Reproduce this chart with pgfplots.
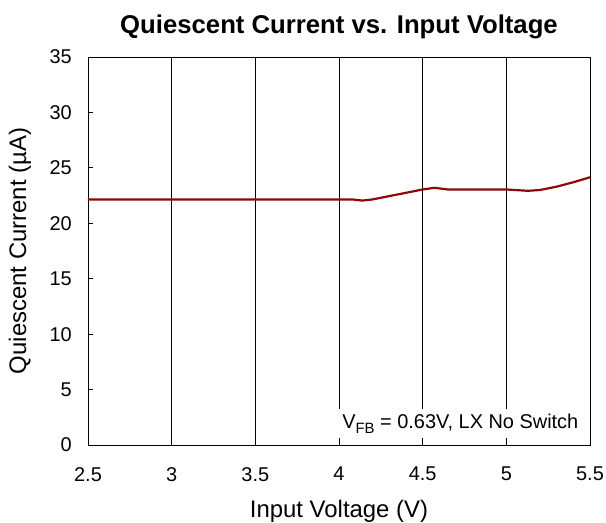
\documentclass[border=0pt]{standalone}
\usepackage{fontspec}
\setmainfont{Liberation Sans}
\usepackage{pgfplots}
\pgfplotsset{compat=1.18}
\definecolor{curve}{RGB}{140,8,8}
\begin{document}
\begin{tikzpicture}
\begin{axis}[
  scale only axis,
  width=502bp, height=388bp,
  xmin=2.5, xmax=5.5, ymin=0, ymax=35,
  xtick={2.5,3,3.5,4,4.5,5,5.5},
  ytick={0,5,10,15,20,25,30,35},
  xticklabels={2.5,3,3.5,4,4.5,5,5.5},
  /pgf/number format/assume math mode=true,
  xtick pos=bottom, ytick pos=left,
  tick align=inside,
  major tick length=5bp,
  tick style={black, line width=0.8bp},
  axis line style={black, line width=0.8bp},
  xmajorgrids=true,
  ymajorgrids=false,
  grid style={black, line width=0.8bp},
  ticklabel style={font=\fontsize{20}{24}\selectfont},
  yticklabel style={anchor=east, inner sep=0pt, xshift=-16bp},
  xticklabel style={anchor=north, inner sep=0pt, yshift=-22bp},
  xlabel={Input Voltage (V)},
  ylabel={Quiescent Current (\textmu A)},
  title={Quiescent Current vs. Input Voltage},
  every axis x label/.style={at={(rel axis cs:0.5,0)}, anchor=base, yshift=-72bp, inner sep=0pt, font=\fontsize{24}{28}\selectfont},
  every axis y label/.style={at={(rel axis cs:0,0.5)}, xshift=-68bp, anchor=center, rotate=90, inner sep=0pt, font=\fontsize{24}{28}\selectfont},
  every axis title/.style={at={(rel axis cs:0.5,1)}, anchor=base, yshift=24bp, inner sep=0pt, font=\fontsize{25.8}{30}\selectfont\bfseries},
  clip=false,
]
\addplot[curve, line width=2.2bp] coordinates {
(2.5,22.15) (3,22.15) (3.5,22.15) (4,22.15) (4.08,22.15) (4.14,22.05) (4.2,22.15)
(4.3,22.45) (4.4,22.75) (4.5,23.05) (4.57,23.2) (4.65,23.05) (4.8,23.05) (5.0,23.05)
(5.05,23.0) (5.13,22.93) (5.2,23.0) (5.3,23.3) (5.4,23.7) (5.5,24.15)
};
\node[fill=white, anchor=south east, inner xsep=10bp, inner ysep=5bp, font=\fontsize{20}{24}\selectfont]
  at ([shift={(-1.5bp,6.5bp)}]rel axis cs:1,0) {V\raisebox{-0.22em}{\fontsize{15}{18}\selectfont FB} = 0.63V, LX No Switch};
\coordinate (bl) at (rel axis cs:0,0);
\coordinate (tr) at (rel axis cs:1,1);
\end{axis}
\pgfresetboundingbox
\path[use as bounding box] ([shift={(-88bp,-78bp)}]bl) rectangle ([shift={(16bp,57bp)}]tr);
\end{tikzpicture}
\end{document}
